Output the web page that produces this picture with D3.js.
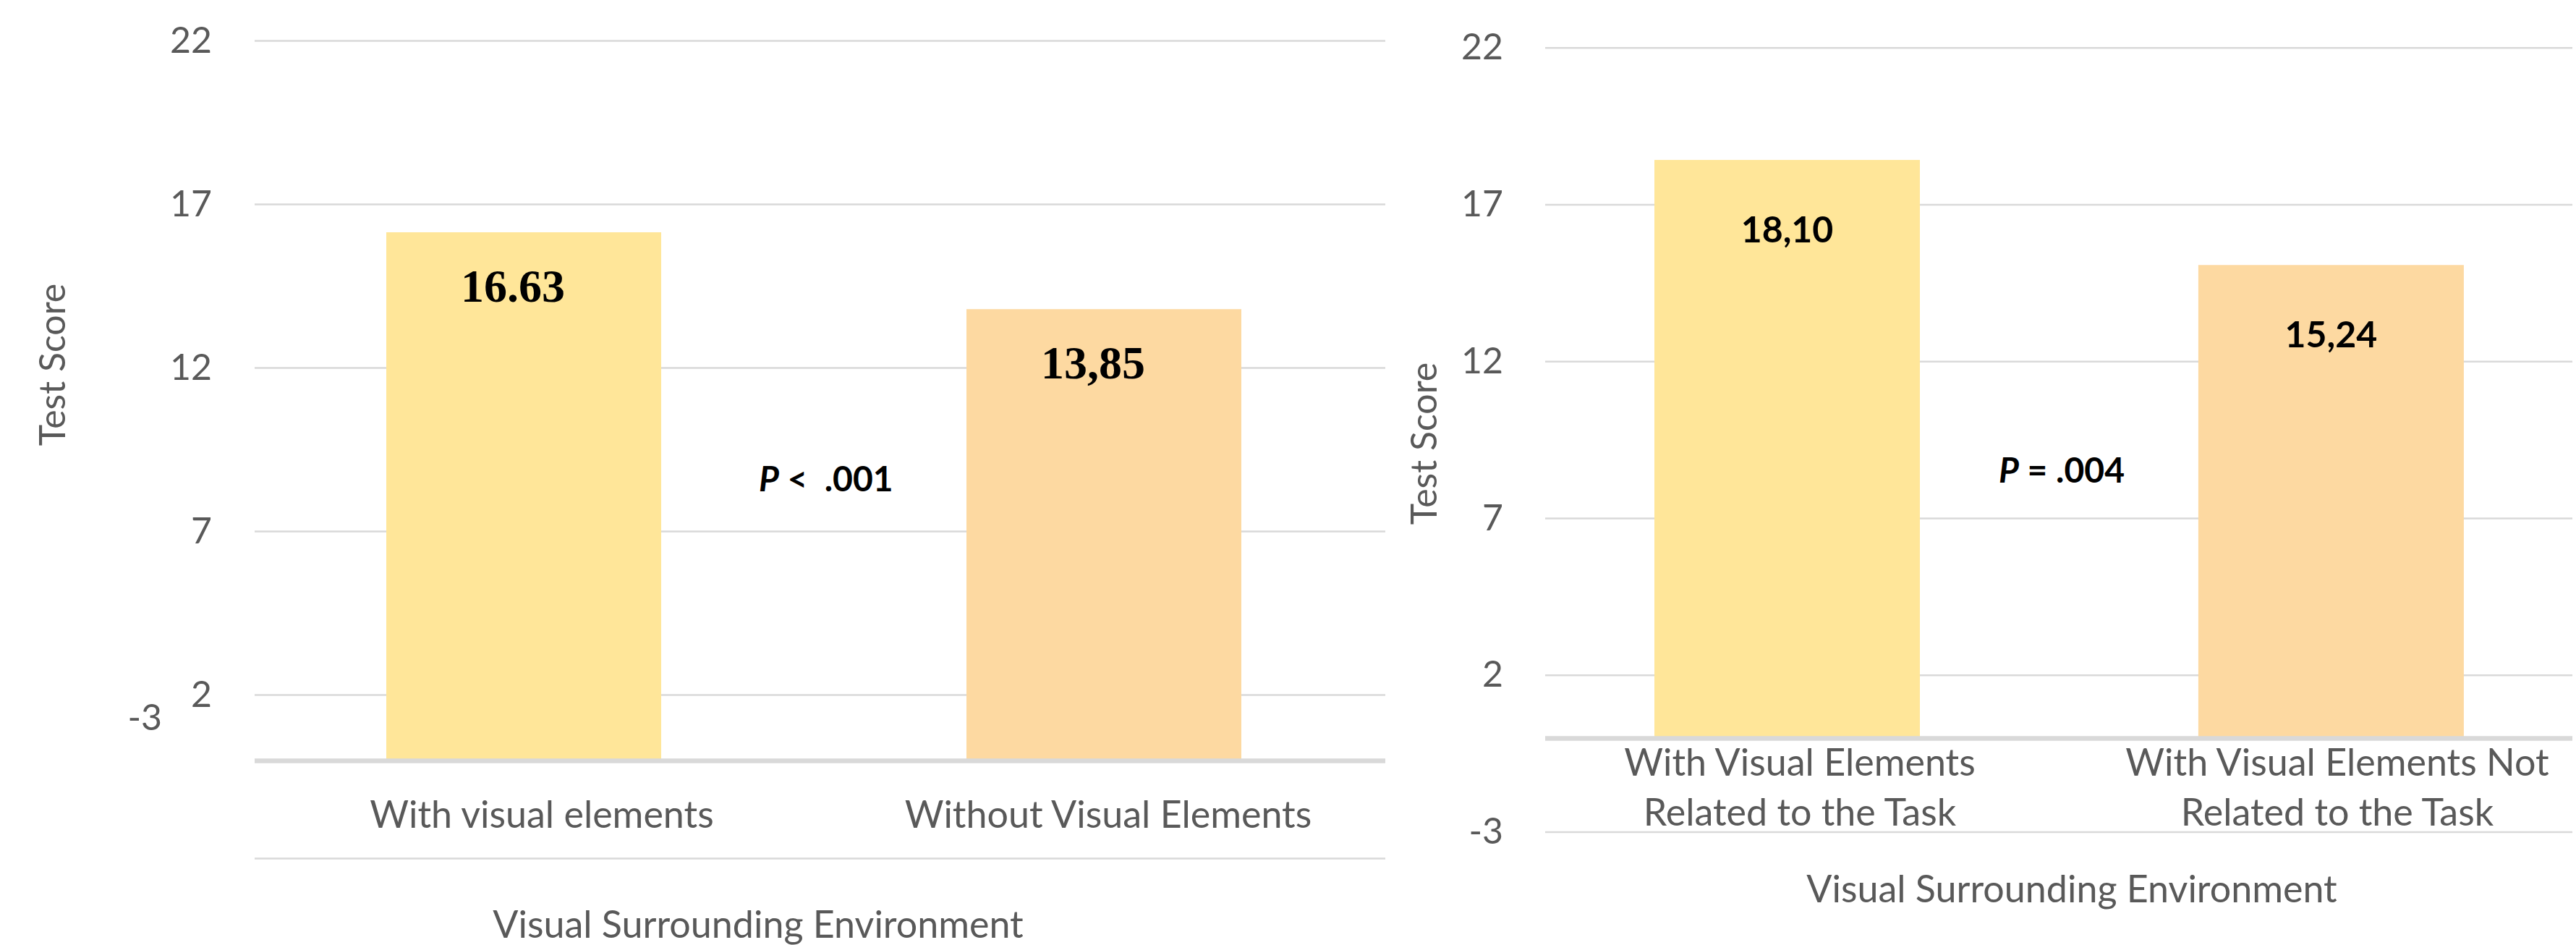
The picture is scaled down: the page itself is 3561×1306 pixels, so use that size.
<!DOCTYPE html>
<html>
<head>
<meta charset="utf-8">
<script src="https://cdn.jsdelivr.net/npm/d3@7"></script>
<style>
  html, body { margin: 0; padding: 0; background: #ffffff; }
  svg { display: block; }
</style>
</head>
<body>
<svg id="chart" width="3561" height="1306"></svg>
<script>
// ---------------- DATA ----------------
const yTicks = [-3, 2, 7, 12, 17, 22];

const leftCategories = ["With visual elements", "Without Visual Elements"];
const leftValues = [16.15, 13.8];
const leftValueLabels = ["16.63", "13,85"];
const leftPText = ["P", " < ", " .001"];

const rightCategories = ["With Visual Elements Related to the Task", "With Visual Elements Not Related to the Task"];
const rightCategoryLines = [["With Visual Elements", "Related to the Task"], ["With Visual Elements Not", "Related to the Task"]];
const rightValues = [18.43, 15.08];
const rightValueLabels = ["18,10", "15,24"];
const rightPText = ["P", " = ", ".004"];

const barColors = ["#FFE699", "#FDD9A1"];
const yTitle = "Test Score";
const xTitle = "Visual Surrounding Environment";

// ---------------- DRAW ----------------
const svg = d3.select("#chart");
svg.append("rect").attr("width", 3561).attr("height", 1306).attr("fill", "#ffffff");

const SANS = "Lato, 'Open Sans', 'Liberation Sans', sans-serif";
const GRAY = "#595959";
const GRID = "#D9D9D9";

function drawChart(cfg) {
  const g = svg.append("g");
  const y = d3.scaleLinear().domain([-3, 22]).range([cfg.yBottom, cfg.yTop]);
  const xGrid = [cfg.plotLeft, cfg.plotRight];
  const xBar = d3.scalePoint().domain(cfg.categories).range(cfg.barCenters);
  const xLab = d3.scalePoint().domain(cfg.categories).range(cfg.labelCenters);

  // gridlines
  g.selectAll("line.grid").data(yTicks).join("line")
    .attr("class", "grid")
    .attr("x1", xGrid[0]).attr("x2", xGrid[1])
    .attr("y1", d => y(d)).attr("y2", d => y(d))
    .attr("stroke", GRID).attr("stroke-width", 2.5);

  // tick labels
  g.selectAll("text.tick").data(yTicks).join("text")
    .attr("class", "tick")
    .attr("x", d => (d === -3 && cfg.minusShift) ? cfg.plotLeft - cfg.tickGap - 69 : cfg.plotLeft - cfg.tickGap)
    .attr("y", d => (d === -3 && cfg.minusShift) ? y(0) - 42 : y(d) + 16)
    .attr("text-anchor", "end")
    .attr("font-family", SANS).attr("font-weight", 400)
    .attr("font-size", cfg.tickSize).attr("fill", GRAY)
    .text(d => d);

  // bars
  g.selectAll("rect.bar").data(cfg.values).join("rect")
    .attr("class", "bar")
    .attr("x", (d, i) => xBar(cfg.categories[i]) - cfg.barWidth / 2)
    .attr("width", cfg.barWidth)
    .attr("y", d => y(d))
    .attr("height", d => y(0) - y(d))
    .attr("fill", (d, i) => barColors[i]);

  // axis line at 0
  g.append("line")
    .attr("x1", xGrid[0]).attr("x2", xGrid[1])
    .attr("y1", y(0) + 0.5).attr("y2", y(0) + 0.5)
    .attr("stroke", GRID).attr("stroke-width", 6.5);

  // value labels
  g.selectAll("text.val").data(cfg.values).join("text")
    .attr("class", "val")
    .attr("x", (d, i) => xBar(cfg.categories[i]) + cfg.valDx)
    .attr("y", d => y(d) + cfg.valDy)
    .attr("text-anchor", "middle")
    .attr("font-family", cfg.valFont).attr("font-weight", 700)
    .attr("font-size", cfg.valSize).attr("fill", "#000000")
    .text((d, i) => cfg.valueLabels[i]);

  // category labels
  cfg.categoryLines.forEach((lines, i) => {
    const t = g.append("text")
      .attr("text-anchor", "middle")
      .attr("font-family", SANS).attr("font-weight", 400)
      .attr("font-size", cfg.catSize).attr("fill", GRAY);
    lines.forEach((ln, j) => {
      t.append("tspan")
        .attr("x", xLab(cfg.categories[i]))
        .attr("y", cfg.catBaseline + j * cfg.catLineGap)
        .text(ln);
    });
  });

  // P value text
  const p = g.append("text")
    .attr("x", cfg.pX).attr("y", cfg.pY)
    .attr("font-family", SANS).attr("font-weight", 700)
    .attr("font-size", cfg.pSize).attr("fill", "#000000")
    .attr("xml:space", "preserve").style("white-space", "pre");
  p.append("tspan").attr("font-style", "italic").text(cfg.pText[0]);
  p.append("tspan").text(cfg.pText[1] + cfg.pText[2]);

  // axis titles
  g.append("text")
    .attr("transform", `translate(${cfg.yTitleX},${cfg.yTitleY}) rotate(-90)`)
    .attr("text-anchor", "middle")
    .attr("font-family", SANS).attr("font-weight", 400)
    .attr("font-size", cfg.yTitleSize).attr("fill", GRAY)
    .text(yTitle);

  g.append("text")
    .attr("x", cfg.xTitleX).attr("y", cfg.xTitleY)
    .attr("text-anchor", "middle")
    .attr("font-family", SANS).attr("font-weight", 400)
    .attr("font-size", cfg.titleSize).attr("fill", GRAY)
    .text(xTitle);
}

drawChart({
  categories: leftCategories,
  categoryLines: leftCategories.map(c => [c]),
  values: leftValues,
  valueLabels: leftValueLabels,
  pText: leftPText,
  yTop: 56.6, yBottom: 1186.6,
  plotLeft: 352, plotRight: 1915,
  barCenters: [724, 1526], barWidth: 380,
  labelCenters: [749, 1532],
  tickGap: 59, tickSize: 50, minusShift: true,
  valFont: "'Liberation Serif', 'Times New Roman', serif", valSize: 64, valDx: -15, valDy: 96,
  catSize: 52, catBaseline: 1144, catLineGap: 69,
  pX: 1049, pY: 679, pSize: 48,
  yTitleX: 90, yTitleY: 504, yTitleSize: 50,
  xTitleX: 1048, xTitleY: 1296, titleSize: 52
});

drawChart({
  categories: rightCategories,
  categoryLines: rightCategoryLines,
  values: rightValues,
  valueLabels: rightValueLabels,
  pText: rightPText,
  yTop: 66.3, yBottom: 1150,
  plotLeft: 2136, plotRight: 3556,
  barCenters: [2470.5, 3222.4], barWidth: 367,
  labelCenters: [2488, 3231],
  tickGap: 58, tickSize: 50, minusShift: false,
  valFont: SANS, valSize: 50, valDx: 0, valDy: 114,
  catSize: 52, catBaseline: 1072, catLineGap: 69,
  pX: 2763, pY: 667, pSize: 48,
  yTitleX: 1986, yTitleY: 613, yTitleSize: 50,
  xTitleX: 2864, xTitleY: 1247, titleSize: 52
});
</script>
</body>
</html>
